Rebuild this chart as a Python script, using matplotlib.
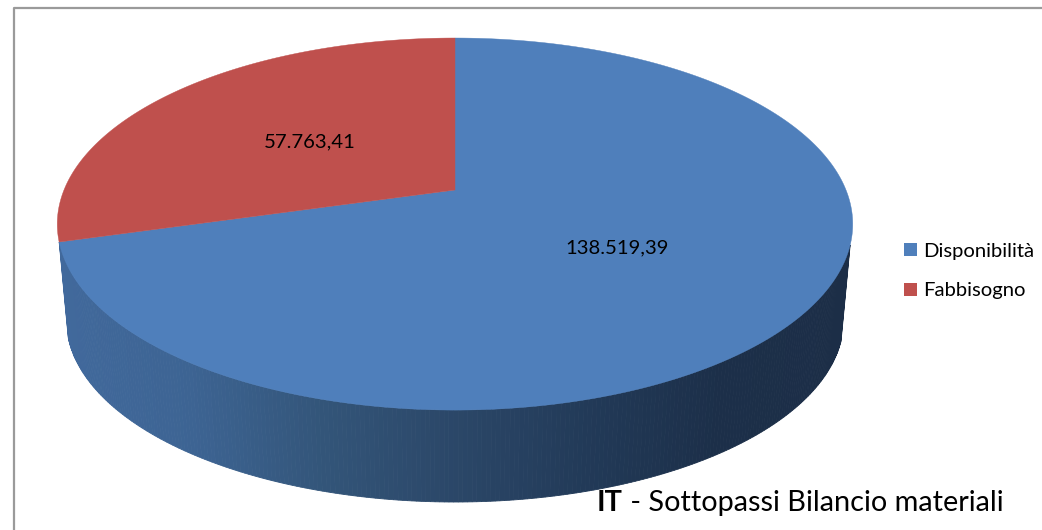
import numpy as np
import matplotlib
matplotlib.use('Agg')
import matplotlib.pyplot as plt
from matplotlib.colors import LinearSegmentedColormap
from matplotlib.patches import Patch

labels = ['Disponibilità', 'Fabbisogno']
values = [138519.39, 57763.41]
colors = ['#4f7fbb', '#bf504d']
title_bold = 'IT'
title_rest = ' - Sottopassi Bilancio materiali'

# perspective of the pie plane, in pixels of the 1042x530 picture
cx, cy = 455, 190
rx, ry = 391, 179.8
persp = 0.183
depth = 97
base_scale = 0.977

wall_cmap = LinearSegmentedColormap.from_list(
    'wall', ['#41699c', '#3d6493', '#335579', '#2b4768', '#223a58', '#1c2f49', '#1c2e47'])


def project(theta, r=1.0, lower=False):
    # theta is measured clockwise from 12 o'clock
    u = r * np.sin(theta)
    v = r * np.cos(theta)
    w = 1 + persp * v
    x, y = rx * u / w, -ry * v / w
    if lower:
        return cx + base_scale * x, cy + depth + base_scale * y
    return cx + x, cy + y


def it_number(val):
    return f'{val:,.2f}'.replace(',', 'X').replace('.', ',').replace('X', '.')


plt.rcParams['font.family'] = ['Lato', 'DejaVu Sans']
fig = plt.figure(figsize=(10.42, 5.3), dpi=100)
ax = fig.add_axes([0, 0, 1, 1])
ax.set_xlim(0, 1042)
ax.set_ylim(530, 0)
ax.axis('off')

# chart frame, only top and left are in the crop
ax.plot([1042, 13.5, 13.5], [7.5, 7.5, 530], color='#9a9a9a', lw=1.6, zorder=1)

fracs = np.array(values) / sum(values)
edges = np.concatenate([[0], np.cumsum(fracs)]) * 2 * np.pi

# side wall, thin strips from the right side round the front to the red edge
wall_start = np.arccos(-0.29)
wall = np.linspace(wall_start, edges[1], 260)
for t0, t1 in zip(wall[:-1], wall[1:]):
    xt, yt = project(np.array([t0, t1]))
    xb, yb = project(np.array([t1, t0]), lower=True)
    shade = ((xt.mean() + xb.mean()) / 2 - 60) / 790
    c = wall_cmap(np.clip(shade, 0, 1))
    ax.fill(np.r_[xt, xb], np.r_[yt, yb], color=c, lw=0.6, zorder=2)

# top of the pie
for i in range(len(values)):
    t = np.linspace(edges[i], edges[i + 1], 300)
    x, y = project(t)
    ax.fill(np.r_[cx, x], np.r_[cy, y], color=colors[i], lw=0.3, zorder=3)
    mid = (edges[i] + edges[i + 1]) / 2
    lx, ly = project(mid, r=0.49)
    ax.text(lx, ly + 2, it_number(values[i]), ha='center', va='center',
            fontsize=14.6, color='black', zorder=4)

handles = [Patch(facecolor=c, edgecolor='none') for c in colors]
ax.legend(handles, labels, loc='center left', bbox_to_anchor=(904 / 1042, 1 - 271 / 530),
          frameon=False, fontsize=14.6, handlelength=0.64, handleheight=0.64,
          handletextpad=0.3, labelspacing=1.12, borderpad=0, borderaxespad=0)

bold = ax.text(597, 516, title_bold, fontsize=20.8, fontweight='bold', color='black',
               ha='left', va='bottom', zorder=5)
ax.annotate(title_rest, xy=(1, 0), xycoords=bold, fontsize=20.8, color='black',
            ha='left', va='bottom', zorder=5)

fig.savefig('out.png', dpi=100)
